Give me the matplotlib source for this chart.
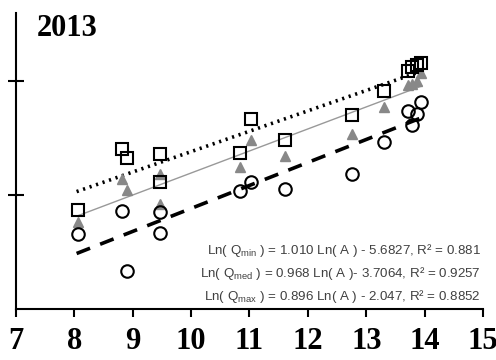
import matplotlib
matplotlib.use('Agg')
import matplotlib.pyplot as plt
import numpy as np

# Ln(A) of each station and Ln(Q) for min / med / max
ln_a = [8.07, 8.81, 8.90, 9.46, 9.46, 10.83, 11.03, 11.61, 12.76, 13.30, 13.71, 13.79, 13.87, 13.94]
ln_qmax = [4.34, 7.05, 6.65, 6.83, 5.59, 6.87, 8.36, 7.44, 8.54, 9.58, 10.45, 10.63, 10.70, 10.80]
ln_qmed = [3.83, 5.69, 5.22, 5.95, 4.61, 6.24, 7.41, 6.71, 7.70, 8.87, 9.85, 9.90, 10.00, 10.35]
ln_qmin = [3.28, 4.30, 1.67, 4.27, 3.32, 5.18, 5.59, 5.25, 5.95, 7.34, 8.70, 8.10, 8.55, 9.10]

# regression coefficients (slope, intercept)
fit_min = (1.010, -5.6827)
fit_med = (0.968, -3.7064)
fit_max = (0.896, -2.047)

eq_labels = [
    r'Ln( Q$_{\rm min}$ ) = 1.010 Ln( A ) - 5.6827, R² = 0.881',
    r'Ln( Q$_{\rm med}$ ) = 0.968 Ln( A )- 3.7064, R² = 0.9257',
    r'Ln( Q$_{\rm max}$ ) = 0.896 Ln( A ) - 2.047, R² = 0.8852',
]

xticks = [7, 8, 9, 10, 11, 12, 13, 14, 15]

plt.rcParams['mathtext.fontset'] = 'custom'
plt.rcParams['mathtext.rm'] = 'Liberation Sans'

fig = plt.figure(figsize=(4.96, 3.6), dpi=100)
ax = fig.add_axes([0.032, 0.1417, 0.942, 0.822])

xl = np.array([min(ln_a) - 0.03, max(ln_a) + 0.01])
ax.plot(xl, fit_max[0] * xl + fit_max[1], color='black', linestyle=(0, (0.6, 1.3)), lw=2.6)
ax.plot(xl, fit_med[0] * xl + fit_med[1], color='#999999', lw=1.0)
ax.plot(xl, fit_min[0] * xl + fit_min[1], color='black', linestyle=(0, (4, 3)), lw=2.6)

ax.plot(ln_a, ln_qmed, linestyle='none', marker='^', markersize=7.5,
        color='#888888', markeredgecolor='#888888')
ax.plot(ln_a, ln_qmax, linestyle='none', marker='s', markersize=9,
        markerfacecolor='none', markeredgecolor='black', markeredgewidth=1.5)
ax.plot(ln_a, ln_qmin, linestyle='none', marker='o', markersize=9,
        markerfacecolor='none', markeredgecolor='black', markeredgewidth=1.5)

ax.set_xlim(7, 15)
ax.set_ylim(0, 13)
ax.spines['top'].set_visible(False)
ax.spines['right'].set_visible(False)
ax.spines['left'].set_linewidth(1.5)
ax.spines['bottom'].set_linewidth(1.5)

ax.set_xticks(xticks)
ax.set_xticklabels([str(t) for t in xticks], fontfamily='Liberation Serif',
                   fontweight='bold', fontsize=22)
ax.tick_params(axis='x', direction='out', length=6, width=1.5, pad=7)
ax.set_yticks([5, 10])
ax.set_yticklabels([])
ax.tick_params(axis='y', direction='inout', length=11, width=1.5)

ax.text(0.045, 0.997, '2013', transform=ax.transAxes, fontfamily='Liberation Serif',
        fontweight='bold', fontsize=22, va='top', ha='left')

for i, lab in enumerate(eq_labels):
    ax.text(0.995, 0.199 - i * 0.078, lab, transform=ax.transAxes, ha='right', va='center',
            fontfamily='Liberation Sans', fontsize=9.6, color='#404040')

fig.savefig('out.png', dpi=100)
